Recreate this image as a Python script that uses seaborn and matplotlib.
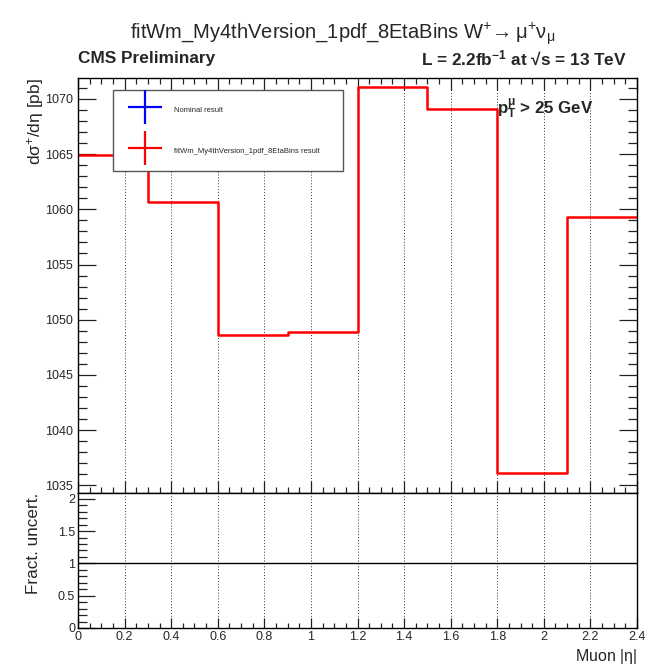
import numpy as np
import pandas as pd
import matplotlib
matplotlib.use("Agg")
import matplotlib.pyplot as plt
from matplotlib.lines import Line2D
from matplotlib.ticker import MultipleLocator, FormatStrFormatter, FuncFormatter
import seaborn as sns

# ---- data ----
bin_edges = [0.0, 0.3, 0.6, 0.9, 1.2, 1.5, 1.8, 2.1, 2.4]
xsec_fit = [1064.9, 1060.7, 1048.58, 1048.88, 1071.1, 1069.1, 1036.09, 1059.3]
ratio_vals = [1.0, 1.0, 1.0, 1.0, 1.0, 1.0, 1.0, 1.0]
bin_centers = [(a + b) / 2 for a, b in zip(bin_edges[:-1], bin_edges[1:])]

title_txt = r"fitWm_My4thVersion_1pdf_8EtaBins W$^{+}\!\rightarrow \mathrm{\mu}^{+}\mathrm{\nu}_{\mathrm{\mu}}$"
legend_labels = ["Nominal result", "fitWm_My4thVersion_1pdf_8EtaBins result"]

sns.set_style("ticks")
plt.rcParams["font.family"] = ["Liberation Sans", "DejaVu Sans"]
plt.rcParams["mathtext.fontset"] = "custom"
plt.rcParams["mathtext.rm"] = "Liberation Sans"
plt.rcParams["mathtext.it"] = "Liberation Sans:italic"
plt.rcParams["mathtext.bf"] = "Liberation Sans:bold"

df = pd.DataFrame({"eta": bin_centers, "xsec": xsec_fit, "ratio": ratio_vals})

W, H = 662, 666
fig = plt.figure(figsize=(W / 100, H / 100), dpi=100)
fig.patch.set_facecolor("white")

L, R = 78 / W, 637 / W
top_t, top_b = 1 - 78 / H, 1 - 493 / H
bot_b = 1 - 628 / H
ax1 = fig.add_axes([L, top_b, R - L, top_t - top_b])
ax2 = fig.add_axes([L, bot_b, R - L, top_b - bot_b])

# top panel: step histogram
sns.histplot(data=df, x="eta", weights="xsec", bins=bin_edges, element="step",
             fill=False, color="#ff0000", linewidth=1.8, ax=ax1)
ax1.set_xlim(0, 2.4)
ax1.set_ylim(1034.3, 1071.9)
ax1.set_xlabel("")
ax1.set_ylabel("")
ax1.yaxis.set_major_locator(MultipleLocator(5))
ax1.yaxis.set_minor_locator(MultipleLocator(1))
ax1.xaxis.set_major_locator(MultipleLocator(0.2))
ax1.xaxis.set_minor_locator(MultipleLocator(0.05))
ax1.tick_params(axis="both", which="both", direction="in", top=True, right=True,
                labelbottom=False, labelsize=9, width=0.9, color="#222222")
ax1.tick_params(axis="y", which="major", length=13)
ax1.tick_params(axis="y", which="minor", length=6.5)
ax1.tick_params(axis="x", which="major", length=8.5)
ax1.tick_params(axis="x", which="minor", length=4.5)
ax1.yaxis.set_major_formatter(FormatStrFormatter("%d"))
ax1.grid(False)
for xv in np.arange(0.2, 2.3, 0.2):
    ax1.axvline(xv, color="#333333", lw=0.7, ls=(0, (1, 2)), zorder=0)

# legend
handles = [
    Line2D([], [], color="#0000ff", marker="+", markersize=25, mew=1.6, ls="none"),
    Line2D([], [], color="#ff0000", marker="+", markersize=25, mew=1.6, ls="none"),
]
lx0 = (113 - 78) / 559
lx1 = (343 - 78) / 559
ly1 = (493 - 90) / 415
ly0 = (493 - 185) / 415
leg = ax1.legend(handles, legend_labels, loc="upper left",
                 bbox_to_anchor=(lx0, ly0, lx1 - lx0, ly1 - ly0), mode="expand",
                 borderaxespad=0, fontsize=5.5, handlelength=5.3, handleheight=3,
                 labelspacing=3.2, borderpad=1.5, handletextpad=1.2,
                 fancybox=False, framealpha=1, edgecolor="#555555")
leg.get_frame().set_linewidth(1.0)

ax1.text(0.749, 0.925, r"$\mathbf{p}_{\mathbf{T}}^{\mathbf{\mu}}$ > 25 GeV", transform=ax1.transAxes,
         fontsize=12.2, fontweight="bold", ha="left", va="center")

# bottom panel
sns.histplot(data=df, x="eta", weights="ratio", bins=bin_edges, element="step",
             fill=False, color="black", linewidth=1.0, ax=ax2)
ax2.set_xlim(0, 2.4)
ax2.set_ylim(0, 2.09)
ax2.set_xlabel("")
ax2.set_ylabel("")
ax2.xaxis.set_major_locator(MultipleLocator(0.2))
ax2.xaxis.set_minor_locator(MultipleLocator(0.05))
ax2.yaxis.set_major_locator(MultipleLocator(0.5))
ax2.yaxis.set_minor_locator(MultipleLocator(0.1))
ax2.xaxis.set_major_formatter(FuncFormatter(lambda v, p: f"{v:g}"))
ax2.yaxis.set_major_formatter(FuncFormatter(lambda v, p: f"{v:g}"))
ax2.tick_params(axis="both", which="both", direction="in", labelsize=9,
                width=0.9, color="#222222", pad=2)
ax2.tick_params(axis="y", which="major", length=12)
ax2.tick_params(axis="y", which="minor", length=6.5)
ax2.tick_params(axis="x", which="major", length=7)
ax2.tick_params(axis="x", which="minor", length=3.5)
ax2.grid(False)
for xv in np.arange(0.2, 2.3, 0.2):
    ax2.axvline(xv, color="#333333", lw=0.7, ls=(0, (1, 2)), zorder=0)

for ax in (ax1, ax2):
    for s in ax.spines.values():
        s.set_color("black")
        s.set_linewidth(1.0)
        s.set_visible(True)

# texts
fig.text(343 / W, 1 - 34 / H, title_txt, ha="center", va="center", fontsize=14.5)
fig.text(L, 1 - 58 / H, "CMS Preliminary", ha="left", va="center", fontsize=12.4, fontweight="bold")
fig.text(627 / W, 1 - 58 / H, "L = 2.2fb$^{\\mathbf{-1}}$ at \u221as = 13 TeV",
         ha="right", va="center", fontsize=12.4, fontweight="bold")
fig.text(35 / W, 1 - 78 / H, r"d$\mathrm{\sigma}^{+}$/d$\mathrm{\eta}$ [pb]", rotation=90,
         ha="center", va="top", fontsize=12.5)
fig.text(33 / W, 1 - 493 / H, "Fract. uncert.", rotation=90, ha="center", va="top", fontsize=12.3)
fig.text(R, 1 - 656 / H, r"Muon |$\mathrm{\eta}$|", ha="right", va="center", fontsize=11.5)

fig.savefig("out.png", dpi=100, facecolor="white")
